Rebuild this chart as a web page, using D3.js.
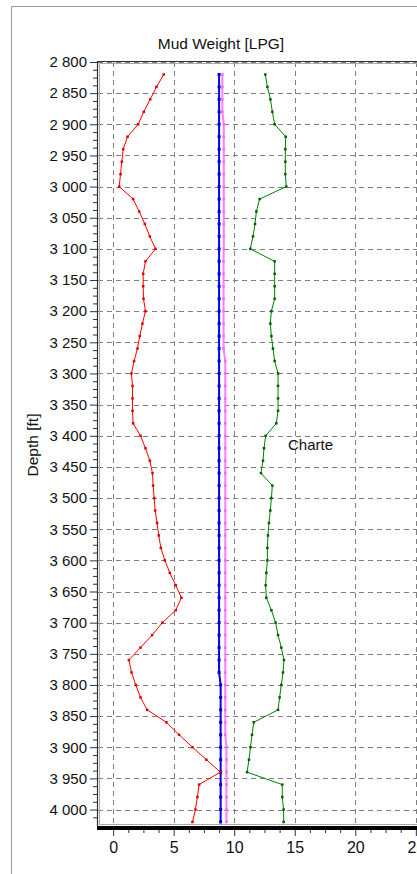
<!DOCTYPE html>
<html>
<head>
<meta charset="utf-8">
<script src="https://cdn.jsdelivr.net/npm/d3@7/dist/d3.min.js"></script>
<style>
  html, body { margin: 0; padding: 0; background: #fff; }
  svg { display: block; font-family: "Liberation Sans", Arial, sans-serif; }
</style>
</head>
<body>
<svg id="chart" width="417" height="874"></svg>
<script>
// Sampled depths (ft), one reading every 20 ft
const depths = [2820, 2840, 2860, 2880, 2900, 2920, 2940, 2960, 2980, 3000,
  3020, 3040, 3060, 3080, 3100, 3120, 3140, 3160, 3180, 3200,
  3220, 3240, 3260, 3280, 3300, 3320, 3340, 3360, 3380, 3400,
  3420, 3440, 3460, 3480, 3500, 3520, 3540, 3560, 3580, 3600,
  3620, 3640, 3660, 3680, 3700, 3720, 3740, 3760, 3780, 3800,
  3820, 3840, 3860, 3880, 3900, 3920, 3940, 3960, 3980, 4000, 4020];

// Pore pressure gradient (red)
const porePressure = [4.18, 3.58, 3.06, 2.53, 2.07, 1.19, 0.83, 0.72, 0.61, 0.50,
  1.65, 2.15, 2.62, 3.03, 3.50, 2.67, 2.48, 2.48, 2.51, 2.67,
  2.42, 2.20, 2.01, 1.73, 1.51, 1.60, 1.60, 1.60, 1.65, 2.26,
  2.67, 3.03, 3.25, 3.30, 3.39, 3.47, 3.63, 3.77, 3.94, 4.27,
  4.68, 5.17, 5.64, 5.17, 4.07, 3.22, 2.26, 1.30, 1.52, 1.87,
  2.26, 2.81, 4.40, 5.45, 6.55, 7.70, 8.86, 7.10, 6.96, 6.80, 6.55];

// Mud weight in (blue)
const mudWeightIn = [8.75, 8.75, 8.75, 8.75, 8.75, 8.75, 8.75, 8.75, 8.75, 8.75,
  8.75, 8.75, 8.75, 8.75, 8.75, 8.75, 8.75, 8.75, 8.75, 8.75,
  8.75, 8.75, 8.75, 8.75, 8.75, 8.75, 8.75, 8.75, 8.75, 8.75,
  8.75, 8.75, 8.75, 8.75, 8.75, 8.75, 8.75, 8.75, 8.75, 8.75,
  8.75, 8.75, 8.75, 8.75, 8.75, 8.75, 8.75, 8.75, 8.75, 8.88,
  8.88, 8.88, 8.88, 8.88, 8.88, 8.88, 8.88, 8.88, 8.88, 8.88, 8.88];

// Mud weight out (pink)
const mudWeightOut = [9.02, 9.02, 9.02, 9.02, 9.14, 9.14, 9.14, 9.14, 9.14, 9.14,
  9.14, 9.14, 9.14, 9.14, 9.14, 9.12, 9.12, 9.12, 9.12, 9.12,
  9.12, 9.12, 9.12, 9.26, 9.26, 9.26, 9.26, 9.26, 9.26, 9.26,
  9.26, 9.26, 9.26, 9.26, 9.26, 9.26, 9.26, 9.26, 9.26, 9.26,
  9.26, 9.26, 9.26, 9.26, 9.26, 9.26, 9.26, 9.26, 9.26, 9.26,
  9.26, 9.26, 9.26, 9.26, 9.36, 9.36, 9.36, 9.36, 9.36, 9.36, 9.36];

// Fracture gradient (green)
const fractureGradient = [12.57, 12.74, 12.99, 13.15, 13.34, 14.25, 14.22, 14.22, 14.22, 14.30,
  12.10, 11.83, 11.72, 11.55, 11.33, 13.34, 13.34, 13.34, 13.34, 13.07,
  12.98, 13.07, 13.20, 13.34, 13.62, 13.62, 13.62, 13.62, 13.48, 12.60,
  12.46, 12.38, 12.21, 13.15, 13.07, 12.98, 12.87, 12.79, 12.74, 12.74,
  12.65, 12.60, 12.65, 13.07, 13.42, 13.62, 13.89, 14.11, 14.03, 13.89,
  13.75, 13.62, 11.61, 11.47, 11.34, 11.22, 11.06, 13.97, 13.97, 14.08, 14.08];

const xTicks = [0, 5, 10, 15, 20, 25];
const xMinorTicks = [1.25, 2.5, 3.75, 6.25, 7.5, 8.75, 11.25, 12.5, 13.75,
  16.25, 17.5, 18.75, 21.25, 22.5, 23.75, 26.25, 27.5];
const yTicks = [2800, 2850, 2900, 2950, 3000, 3050, 3100, 3150, 3200, 3250, 3300,
  3350, 3400, 3450, 3500, 3550, 3600, 3650, 3700, 3750, 3800, 3850, 3900, 3950, 4000];

const titleText = "Mud Weight [LPG]";
const yTitleText = "Depth [ft]";
const noteText = "Charte";

const svg = d3.select("#chart");
const W = 417, H = 874;

const plot = { left: 98, right: 480, top: 62, bottom: 822 };

const x = d3.scaleLinear().domain([-1.25, 30.3]).range([plot.left, plot.right]);
const y = d3.scaleLinear().domain([2800, 4020]).range([plot.top, plot.bottom]);

const fmt = d3.formatLocale({ decimal: ".", thousands: " ", grouping: [3], currency: ["", ""] }).format(",");

svg.append("rect").attr("width", W).attr("height", H).attr("fill", "#fff");

// outer panel frame
svg.append("path")
  .attr("d", `M11.5,${H} V6.5 H${W}`)
  .attr("fill", "none").attr("stroke", "#9a9a9a").attr("stroke-width", 1);

// title
svg.append("text")
  .attr("x", 221).attr("y", 49)
  .attr("text-anchor", "middle")
  .attr("font-size", 15.5).attr("fill", "#111")
  .text(titleText);

// y axis title
svg.append("text")
  .attr("transform", "translate(38,445) rotate(-90)")
  .attr("text-anchor", "middle")
  .attr("font-size", 15.5).attr("fill", "#111")
  .text(yTitleText);

svg.append("defs").append("clipPath").attr("id", "plotClip")
  .append("rect")
  .attr("x", plot.left).attr("y", plot.top)
  .attr("width", plot.right - plot.left).attr("height", plot.bottom - plot.top + 3);

const body = svg.append("g").attr("clip-path", "url(#plotClip)");

// dashed grid
body.append("g").selectAll("line").data(xTicks).join("line")
  .attr("x1", d => Math.round(x(d)) + 0.5).attr("x2", d => Math.round(x(d)) + 0.5)
  .attr("y1", plot.top).attr("y2", plot.bottom + 3)
  .attr("stroke", "#808080").attr("stroke-width", 1).attr("stroke-dasharray", "5,4");
body.append("g").selectAll("line").data(yTicks).join("line")
  .attr("x1", plot.left).attr("x2", plot.right)
  .attr("y1", d => Math.round(y(d)) + 0.5).attr("y2", d => Math.round(y(d)) + 0.5)
  .attr("stroke", "#808080").attr("stroke-width", 1).attr("stroke-dasharray", "5,4");

// chart note
body.append("text")
  .attr("x", 288).attr("y", 450)
  .attr("font-size", 15).attr("fill", "#111")
  .text(noteText);

const series = [
  { values: mudWeightOut, color: "#ff80ff", width: 2, marker: "#ff66ff", size: 2.5 },
  { values: mudWeightIn, color: "#0000ff", width: 2, marker: "#0000c0", size: 3 },
  { values: porePressure, color: "#ff0000", width: 1, marker: "#e00000", size: 2.5 },
  { values: fractureGradient, color: "#008000", width: 1, marker: "#006000", size: 2.5 }
];

const line = d3.line().x(d => x(d[0])).y(d => y(d[1]));

series.forEach(s => {
  const pts = depths.map((dep, i) => [s.values[i], dep]);
  body.append("path")
    .datum(pts)
    .attr("d", line)
    .attr("fill", "none")
    .attr("stroke", s.color)
    .attr("stroke-width", s.width)
    .attr("stroke-linejoin", "round");
  body.append("g").selectAll("rect").data(pts).join("rect")
    .attr("x", d => x(d[0]) - s.size / 2).attr("y", d => y(d[1]) - s.size / 2)
    .attr("width", s.size).attr("height", s.size)
    .attr("fill", s.marker);
});

// plot frame: dark outer edge, grey inner edge, heavy bottom rule
svg.append("path")
  .attr("d", `M${plot.left - 0.5},${plot.bottom + 5} V${plot.top - 0.5} H${W}`)
  .attr("fill", "none").attr("stroke", "#303030").attr("stroke-width", 1.2);
svg.append("path")
  .attr("d", `M${plot.left + 1.5},${plot.bottom + 3} V${plot.top + 1.5} H${W}`)
  .attr("fill", "none").attr("stroke", "#a8a8a8").attr("stroke-width", 1);
svg.append("line")
  .attr("x1", plot.left + 1).attr("x2", W)
  .attr("y1", plot.bottom + 2.5).attr("y2", plot.bottom + 2.5)
  .attr("stroke", "#a8a8a8").attr("stroke-width", 1);
svg.append("rect")
  .attr("x", plot.left - 1).attr("y", plot.bottom + 4)
  .attr("width", W - plot.left + 1).attr("height", 4)
  .attr("fill", "#000");

// y axis: major ticks with labels, then minor ticks
const yAxisG = svg.append("g")
  .attr("transform", `translate(${plot.left - 1},0)`)
  .call(d3.axisLeft(y).tickValues(yTicks).tickSize(7).tickPadding(3).tickFormat(fmt));
const yMinor = d3.range(2800, 4021, 12.5).filter(v => v % 50 !== 0);
svg.append("g")
  .attr("transform", `translate(${plot.left - 1},0)`)
  .call(d3.axisLeft(y).tickValues(yMinor).tickSize(4).tickFormat(""));

// x axis
const xAxisG = svg.append("g")
  .attr("transform", `translate(0,${plot.bottom + 8})`)
  .call(d3.axisBottom(x).tickValues(xTicks).tickSize(6).tickPadding(6).tickFormat(d3.format("d")));
svg.append("g")
  .attr("transform", `translate(0,${plot.bottom + 8})`)
  .call(d3.axisBottom(x).tickValues(xMinorTicks).tickSize(3).tickFormat(""));

svg.selectAll(".domain").remove();
svg.selectAll(".tick line").attr("stroke", "#333");
yAxisG.selectAll("text").attr("font-size", 15).attr("fill", "#111").attr("font-family", "Liberation Sans, Arial, sans-serif");
xAxisG.selectAll("text").attr("font-size", 16).attr("fill", "#111").attr("font-family", "Liberation Sans, Arial, sans-serif");
</script>
</body>
</html>
